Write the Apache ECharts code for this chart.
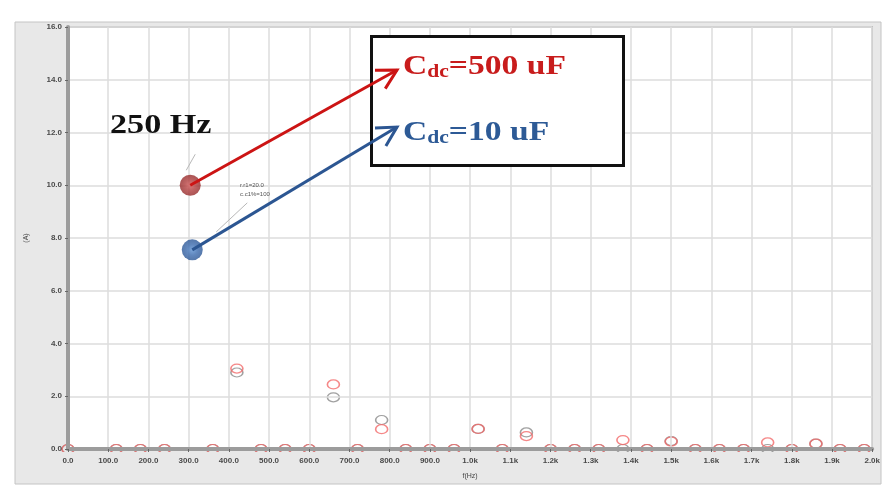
<!DOCTYPE html>
<html><head><meta charset="utf-8">
<script src="https://cdn.jsdelivr.net/npm/echarts@6/dist/echarts.min.js"></script>
<style>html,body{margin:0;padding:0;background:#fff}#c{width:883px;height:486px}</style>
</head><body><div id="c"></div>
<script>
// harmonic frequencies (Hz)
const freqHz = [0,120,180,240,360,420,480,540,600,660,720,780,840,900,960,1020,1080,1140,1200,1260,1320,1380,1440,1500,1560,1620,1680,1740,1800,1860,1920,1980];
// harmonic current amplitude (A), Cdc = 500 uF (red hollow circles)
const amp500uF = [0,0,0,0,0,3.05,0,0,0,2.45,0,0.75,0,0,0,0.76,0,0.49,0,0,0,0.34,0,0.28,0,0,0,0.25,0,0.2,0,0];
// harmonic current amplitude (A), Cdc = 10 uF (grey hollow circles)
const amp10uF  = [0,0,0,0,0,2.9,0,0,0,1.96,0,1.1,0,0,0,0.76,0,0.63,0,0,0,0,0,0.3,0,0,0,0,0,0.2,0,0];
// highlighted 250 Hz component
const hlFreq = [304, 309];
const hlAmp = [10.0, 7.55];
const hlNames = ['Cdc=500 uF', 'Cdc=10 uF'];
const yTicks = [0,2,4,6,8,10,12,14,16];

const xFmt = v => v < 1000 ? v.toFixed(1) : (v/1000).toFixed(1) + 'k';
const pairs = (xs, ys) => xs.map((x,i) => [x, ys[i]]);

const chart = echarts.init(document.getElementById('c'), null, {renderer:'canvas'});
const option = {
  animation:false,
  backgroundColor:'#ffffff',
  grid:{left:68,right:7,top:27,bottom:37,show:true,backgroundColor:'#ffffff',borderColor:'#a8a8a8',borderWidth:1.5},
  xAxis:{type:'value',min:0,max:2000,interval:100,z:20,
    name:'f(Hz)',nameLocation:'middle',nameGap:24,nameTextStyle:{fontSize:7,color:'#444',fontFamily:'Liberation Sans'},
    axisLine:{lineStyle:{color:'#9c9c9c',width:4}},
    axisTick:{length:3,lineStyle:{color:'#666',width:1}},
    axisLabel:{formatter:xFmt,fontSize:8,fontWeight:'bold',color:'#4a4a4a',margin:8,fontFamily:'Liberation Sans',showMaxLabel:true},
    splitLine:{lineStyle:{color:'#dcdcdc',width:1.5}}},
  yAxis:{type:'value',min:yTicks[0],max:yTicks[yTicks.length-1],interval:2,z:20,
    name:'(A)',nameLocation:'middle',nameGap:38,nameTextStyle:{fontSize:7,color:'#444',fontFamily:'Liberation Sans'},
    axisLine:{lineStyle:{color:'#9c9c9c',width:4}},
    axisTick:{length:3,lineStyle:{color:'#666',width:1}},
    axisLabel:{formatter:v=>v.toFixed(1),fontSize:8,fontWeight:'bold',color:'#4a4a4a',margin:6,fontFamily:'Liberation Sans'},
    splitLine:{lineStyle:{color:'#dcdcdc',width:1.5}}},
  series:[
    {name:'10 uF',type:'scatter',data:pairs(freqHz,amp10uF),symbol:'circle',symbolSize:[12,9],
     itemStyle:{color:'rgba(0,0,0,0)',borderColor:'#8a8a8a',borderWidth:1.4},z:3},
    {name:'500 uF',type:'scatter',data:pairs(freqHz,amp500uF),symbol:'circle',symbolSize:[12,9],
     itemStyle:{color:'rgba(0,0,0,0)',borderColor:'#f26a6a',borderWidth:1.4},z:4},
    {name:hlNames[0],type:'scatter',data:[[hlFreq[0],hlAmp[0]]],symbolSize:21,z:30,
     itemStyle:{color:{type:'radial',x:0.5,y:0.5,r:0.5,colorStops:[{offset:0,color:'#d25a5a'},{offset:0.5,color:'#b03c3c'},{offset:1,color:'#952a2a'}]}}},
    {name:hlNames[1],type:'scatter',data:[[hlFreq[1],hlAmp[1]]],symbolSize:21,z:30,
     itemStyle:{color:{type:'radial',x:0.5,y:0.5,r:0.5,colorStops:[{offset:0,color:'#5a8fd0'},{offset:0.5,color:'#3a6aae'},{offset:1,color:'#2c5796'}]}}}
  ]
};
chart.setOption(option);

const pR = chart.convertToPixel({gridIndex:0},[hlFreq[0],hlAmp[0]]);
const pB = chart.convertToPixel({gridIndex:0},[hlFreq[1],hlAmp[1]]);

function arrow(from, to, color){
  const ang = Math.atan2(to[1]-from[1], to[0]-from[0]);
  const L = 22, a = 0.5;
  const h1 = [to[0]-L*Math.cos(ang-a), to[1]-L*Math.sin(ang-a)];
  const h2 = [to[0]-L*Math.cos(ang+a), to[1]-L*Math.sin(ang+a)];
  return [
    {type:'line',z:60,shape:{x1:from[0],y1:from[1],x2:to[0],y2:to[1]},style:{stroke:color,lineWidth:3}},
    {type:'polyline',z:60,shape:{points:[h1,to,h2]},style:{stroke:color,lineWidth:3,fill:null}}
  ];
}
const serif = 'bold 28px "Liberation Serif", "DejaVu Serif", serif';
const serifS = 'bold 18px "Liberation Serif", "DejaVu Serif", serif';
chart.setOption({graphic:[
  {type:'rect',z:-10,shape:{x:15,y:22,width:866,height:462},style:{fill:'#e8e8e8',stroke:'#c4c4c4',lineWidth:1}},
  {type:'rect',z:10,shape:{x:16,y:452,width:864,height:31},style:{fill:'#e8e8e8'}},
  {type:'rect',z:11,shape:{x:80,y:97,width:165,height:61},style:{fill:'#ffffff'}},
  {type:'text',z:50,x:110,y:126,scaleX:1.22,style:{text:'250 Hz',font:serif,fill:'#111',verticalAlign:'middle'}},
  {type:'line',z:50,shape:{x1:pR[0]-4,y1:pR[1]-15,x2:pR[0]+5,y2:pR[1]-31},style:{stroke:'#b8b8b8',lineWidth:1}},
  {type:'line',z:50,shape:{x1:pB[0]+24,y1:pB[1]-18,x2:pB[0]+55,y2:pB[1]-47},style:{stroke:'#b8b8b8',lineWidth:1}},
  {type:'text',z:50,x:240,y:185,style:{text:'r.r1=20.0',font:'6px "Liberation Sans"',fill:'#555',verticalAlign:'middle'}},
  {type:'text',z:50,x:240,y:194,style:{text:'c.c1%=100',font:'6px "Liberation Sans"',fill:'#555',verticalAlign:'middle'}},
  {type:'rect',z:55,shape:{x:371.5,y:36.5,width:252,height:129},style:{fill:'#ffffff',stroke:'#111',lineWidth:3}},
  ...arrow(pR,[397,70],'#cc1414'),
  ...arrow(pB,[397,127],'#2c5692'),
  {type:'text',z:70,x:403,y:66,scaleX:1.2,style:{text:'{a|C}{b|dc}{a|=500 uF}',verticalAlign:'middle',
     rich:{a:{font:serif,fill:'#c81c1c',verticalAlign:'bottom',lineHeight:30},b:{font:serifS,fill:'#c81c1c',verticalAlign:'bottom',lineHeight:28}}}},
  {type:'text',z:70,x:403,y:132,scaleX:1.2,style:{text:'{a|C}{b|dc}{a|=10 uF}',verticalAlign:'middle',
     rich:{a:{font:serif,fill:'#2d5a96',verticalAlign:'bottom',lineHeight:30},b:{font:serifS,fill:'#2d5a96',verticalAlign:'bottom',lineHeight:28}}}}
]});
</script></body></html>
